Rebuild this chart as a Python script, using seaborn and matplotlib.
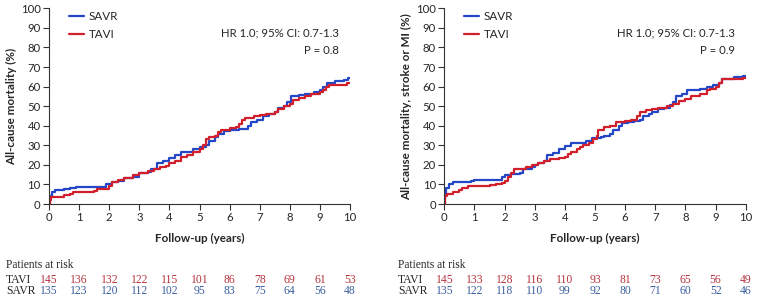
import numpy as np
import pandas as pd
import matplotlib
matplotlib.use("Agg")
import matplotlib.pyplot as plt
import matplotlib.transforms as mtransforms
import seaborn as sns

# Kaplan-Meier style cumulative incidence (step start points)
mort_savr_t = [0, 0.02, 0.1, 0.2, 0.5, 0.7, 0.9, 1.9, 2.1, 2.3, 2.5, 2.8, 3.0, 3.3, 3.4, 3.6, 3.8,
               4.0, 4.2, 4.4, 4.8, 5.0, 5.2, 5.3, 5.5, 5.6, 5.8, 6.0, 6.3, 6.6, 6.7, 6.9, 7.1, 7.3,
               7.5, 7.6, 7.8, 7.9, 8.05, 8.3, 8.5, 8.8, 9.0, 9.1, 9.25, 9.5, 9.8, 9.95, 10.0]
mort_savr_v = [0, 4, 6, 7, 7.5, 8, 8.5, 10, 11, 12, 13.5, 14, 16, 16.5, 18, 21, 22,
               23.5, 25, 26.5, 28, 29, 30, 32, 34, 36, 37.5, 38, 38.5, 40, 42, 43, 45, 46,
               47, 49, 50, 52, 55, 55.5, 56, 57, 58, 60, 62, 63, 63.5, 64.5, 64.5]
mort_tavi_t = [0, 0.02, 0.05, 0.5, 0.7, 0.8, 1.5, 1.6, 2.0, 2.1, 2.3, 2.5, 2.8, 3.0, 3.3, 3.5, 3.7,
               3.9, 4.0, 4.2, 4.4, 4.6, 4.8, 5.0, 5.1, 5.2, 5.3, 5.5, 5.6, 5.7, 6.0, 6.2, 6.3, 6.4,
               6.5, 6.8, 7.0, 7.2, 7.5, 7.6, 7.8, 8.0, 8.1, 8.3, 8.5, 8.7, 9.0, 9.1, 9.2, 9.3, 9.9, 10.0]
mort_tavi_v = [0, 2, 3.5, 4.5, 5, 6, 6.5, 7.5, 9, 11, 12.5, 13.5, 15, 16, 17, 18, 19,
               19.5, 21, 22, 24, 25, 26.5, 28, 30, 33, 34, 35, 37, 38, 39, 39.5, 41, 43,
               44, 45, 45.5, 46, 47, 48.5, 50, 51, 53, 54, 55, 56, 57, 58, 60, 61, 62, 62]

comp_savr_t = [0, 0.01, 0.05, 0.15, 0.3, 0.9, 1.0, 1.9, 2.0, 2.2, 2.5, 2.6, 2.9, 3.0, 3.1, 3.3, 3.4,
               3.6, 3.8, 4.0, 4.2, 4.7, 4.9, 5.2, 5.3, 5.5, 5.6, 5.8, 5.9, 6.1, 6.3, 6.5, 6.6, 6.8,
               6.9, 7.1, 7.3, 7.5, 7.6, 7.7, 7.9, 8.05, 8.5, 8.7, 8.9, 9.1, 9.2, 9.6, 9.9, 10.0]
comp_savr_v = [0, 5, 8, 10, 11, 12, 12.5, 14, 15, 15.5, 16, 18, 19, 20, 21, 22, 25,
               26, 28, 29.5, 31, 32, 33.5, 34, 35, 36, 38, 40, 41.5, 42, 42.5, 43, 45, 46,
               47, 48.5, 49, 50.5, 52, 55, 56, 58.5, 59, 60, 61, 62, 64, 65, 65.5, 65.5]
comp_tavi_t = [0, 0.01, 0.1, 0.3, 0.5, 0.6, 0.8, 1.5, 1.7, 1.9, 2.0, 2.1, 2.2, 2.3, 2.7, 2.9, 3.1,
               3.3, 3.5, 3.8, 4.0, 4.1, 4.2, 4.4, 4.5, 4.6, 4.8, 4.95, 5.05, 5.1, 5.3, 5.5, 5.7,
               6.0, 6.2, 6.4, 6.5, 6.7, 6.9, 7.1, 7.4, 7.6, 7.8, 8.0, 8.2, 8.5, 8.7, 8.8, 9.0,
               9.1, 9.2, 9.9, 10.0]
comp_tavi_v = [0, 4, 5, 6, 7, 8, 9, 9.5, 10, 10.5, 12, 14, 16, 18, 19, 20, 21,
               22, 23, 23.5, 24, 25.5, 26.5, 28, 29, 30, 31, 33, 35, 38, 39.5, 40, 42,
               42.5, 43, 45, 47, 48, 48.5, 49, 50, 51, 52.5, 53.5, 55, 56, 58, 59, 60,
               62, 64, 64.5, 64.5]

years = list(range(0, 11))
mort_tavi_risk = [145, 136, 132, 122, 115, 101, 86, 78, 69, 61, 53]
mort_savr_risk = [135, 123, 120, 112, 102, 95, 83, 75, 64, 56, 48]
comp_tavi_risk = [145, 133, 128, 116, 110, 93, 81, 73, 65, 56, 49]
comp_savr_risk = [135, 122, 118, 110, 99, 92, 80, 71, 60, 52, 46]

ylabels = ["All-cause mortality (%)", "All-cause mortality, stroke or MI (%)"]
stats = [("HR 1.0; 95% CI: 0.7-1.3", "P = 0.8"), ("HR 1.0; 95% CI: 0.7-1.3", "P = 0.9")]

BLUE = "#2447c8"
RED = "#d1202c"
RISK_RED = "#b5323d"
RISK_BLUE = "#3a5d9e"
SANS = "Lato"
SERIF = "Liberation Serif"

sns.set_style("ticks")
plt.rcParams["font.family"] = [SANS, "DejaVu Sans"]

fig = plt.figure(figsize=(7.6, 3.02), dpi=100)
axes = [fig.add_axes([0.0645, 0.3245, 0.396, 0.648]),
        fig.add_axes([0.5846, 0.3245, 0.3966, 0.648])]

panels = [
    (mort_savr_t, mort_savr_v, mort_tavi_t, mort_tavi_v, mort_tavi_risk, mort_savr_risk),
    (comp_savr_t, comp_savr_v, comp_tavi_t, comp_tavi_v, comp_tavi_risk, comp_savr_risk),
]
label_x = [6 / 760, 398 / 760]

for i, (ax, p) in enumerate(zip(axes, panels)):
    st, sv, tt, tv, tavi_risk, savr_risk = p
    df = pd.concat([
        pd.DataFrame({"time": st, "pct": sv, "arm": "SAVR"}),
        pd.DataFrame({"time": tt, "pct": tv, "arm": "TAVI"}),
    ], ignore_index=True)
    sns.lineplot(data=df, x="time", y="pct", hue="arm", hue_order=["SAVR", "TAVI"],
                 palette={"SAVR": BLUE, "TAVI": RED}, estimator=None, sort=False,
                 drawstyle="steps-post", linewidth=1.6, ax=ax)
    ax.set_xlim(0, 10)
    ax.set_ylim(0, 100)
    ax.set_xticks(range(0, 11))
    ax.set_yticks(range(0, 101, 10))
    ax.tick_params(labelsize=8.2, length=4, width=0.8, pad=2, color="#333333")
    for s in ["left", "bottom"]:
        ax.spines[s].set_linewidth(0.8)
        ax.spines[s].set_color("#333333")
    sns.despine(ax=ax)
    ax.set_xlabel("Follow-up (years)", fontsize=8.4, fontweight="bold", labelpad=7)
    ax.set_ylabel(ylabels[i], fontsize=8.4, fontweight="bold", labelpad=3)
    ax.legend(frameon=False, loc="upper left", bbox_to_anchor=(0.03, 1.04), fontsize=8.4,
              handlelength=1.3, handletextpad=0.4, labelspacing=0.6)
    ax.text(0.963, 0.873, stats[i][0], transform=ax.transAxes, ha="right", va="center", fontsize=8.2)
    ax.text(0.963, 0.786, stats[i][1], transform=ax.transAxes, ha="right", va="center", fontsize=8.2)

    # numbers at risk table below the axis
    trans = mtransforms.blended_transform_factory(ax.transData, fig.transFigure)
    fig.text(label_x[i], 1 - 265 / 302, "Patients at risk", family=SERIF, fontsize=8.3,
             va="center", ha="left")
    fig.text(label_x[i], 1 - 280 / 302, "TAVI", family=SERIF, fontsize=8.4, va="center", ha="left")
    fig.text(label_x[i], 1 - 291 / 302, "SAVR", family=SERIF, fontsize=8.4, va="center", ha="left")
    for yr, a, b in zip(years, tavi_risk, savr_risk):
        ax.text(yr, 1 - 280 / 302, str(a), transform=trans, family=SERIF, fontsize=8.4,
                color=RISK_RED, ha="center", va="center")
        ax.text(yr, 1 - 291 / 302, str(b), transform=trans, family=SERIF, fontsize=8.4,
                color=RISK_BLUE, ha="center", va="center")

fig.savefig("out.png", dpi=100)
